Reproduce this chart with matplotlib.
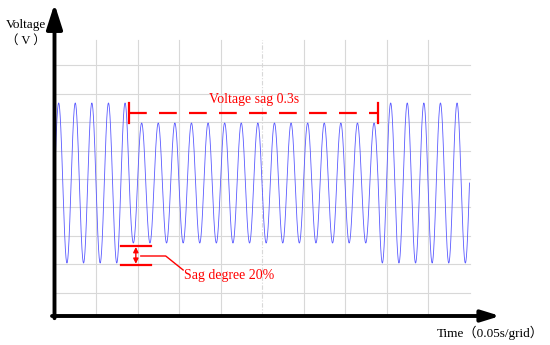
import numpy as np
import matplotlib
matplotlib.use("Agg")
import matplotlib.pyplot as plt

# waveform settings (per-unit voltage, seconds)
freq_hz = 50
duration = 0.5
normal_amp = 1.0
sag_amp = 0.75
sag_start = 0.09
sag_end = 0.39
sag_label = "Voltage sag 0.3s"
depth_label = "Sag degree 20%"

# grid
grid_t = np.arange(0.05, 0.5, 0.05)
grid_v = np.arange(9) * 0.355 - 1.37

t = np.linspace(0, duration, 6000)
amp = np.where((t >= sag_start) & (t <= sag_end), sag_amp, normal_amp)
v = amp * np.sin(2 * np.pi * freq_hz * t)

fig = plt.figure(figsize=(5.5, 3.45), dpi=100)
ax = fig.add_axes([0, 0, 1, 1])
ax.set_xlim(-54.5 / 830, 495.5 / 830)
ax.set_ylim(-2.025, 2.2875)
ax.axis("off")

red = "#ff0000"
serif = ["Liberation Serif", "Noto Sans CJK SC"]

# grid lines
for g in grid_t:
    style = (0, (4, 1.5, 1, 1.5)) if abs(g - 0.25) < 1e-6 else "-"
    ax.plot([g, g], [-1.6625, 1.7875], color="#d8d8d8", lw=0.8, ls=style, zorder=1)
for g in grid_v:
    ax.plot([0, duration], [g, g], color="#d8d8d8", lw=0.8, zorder=1)

# signal
ax.plot(t, v, color="#5a5aff", lw=0.6, zorder=2)

# axes with arrows
ax.annotate("", xy=(0.537, -1.6625), xytext=(-0.003, -1.6625),
            arrowprops=dict(arrowstyle="-|>,head_length=0.55,head_width=0.17",
                            lw=2.8, color="k", mutation_scale=20,
                            shrinkA=0, shrinkB=0), zorder=5)
ax.annotate("", xy=(0, 2.24), xytext=(0, -1.69),
            arrowprops=dict(arrowstyle="-|>,head_length=0.75,head_width=0.24",
                            lw=2.8, color="k", mutation_scale=20,
                            shrinkA=0, shrinkB=0), zorder=5)

ax.text(-0.0345, 1.975, "Voltage", ha="center", va="center", fontsize=9.5, family=serif)
ax.text(-0.0345, 1.775, "（ V ）", ha="center", va="center", fontsize=9, family=serif)
ax.text(0.589, -1.875, "Time（0.05s/grid）", ha="right", va="center", fontsize=9.5, family=serif)

# sag duration marker
ax.plot([sag_start, sag_end], [0.875, 0.875], color=red, lw=1.6,
        dashes=(8, 5.5), zorder=4)
for x in (sag_start, sag_end):
    ax.plot([x, x], [0.75, 1.0], color=red, lw=1.6, zorder=4)
ax.text((sag_start + sag_end) / 2, 1.04, sag_label, color=red, ha="center",
        va="center", fontsize=10, family=serif)

# sag depth marker
ax.plot([0.080, 0.116], [-0.79, -0.79], color=red, lw=1.6, zorder=4)
ax.plot([0.080, 0.116], [-1.02, -1.02], color=red, lw=1.6, zorder=4)
ax.annotate("", xy=(0.098, -0.80), xytext=(0.098, -1.01),
            arrowprops=dict(arrowstyle="<|-|>,head_length=0.3,head_width=0.15",
                            lw=1.0, color=red, mutation_scale=10,
                            shrinkA=0, shrinkB=0), zorder=4)
ax.plot([0.104, 0.134, 0.155], [-0.9125, -0.9125, -1.0875], color=red, lw=1.0, zorder=4)
ax.text(0.156, -1.15, depth_label, color=red, ha="left", va="center",
        fontsize=10, family=serif)

fig.savefig("out.png", dpi=100)
